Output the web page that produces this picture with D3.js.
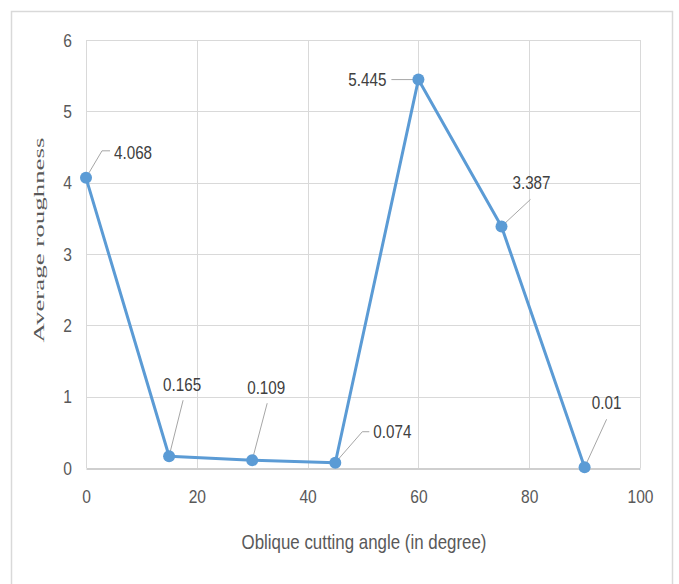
<!DOCTYPE html>
<html>
<head>
<meta charset="utf-8">
<script src="https://cdn.jsdelivr.net/npm/d3@7/dist/d3.min.js"></script>
<style>
  html, body { margin: 0; padding: 0; background: #fff; }
  svg { display: block; }
  .sans { font-family: "Liberation Sans", Arial, sans-serif; }
</style>
</head>
<body>
<svg id="chart" width="679" height="584"></svg>
<script>
// Oblique cutting angle (degrees) and the measured average roughness
const angles = [0, 15, 30, 45, 60, 75, 90];
const roughness = [4.068, 0.165, 0.109, 0.074, 5.445, 3.387, 0.01];
const xTicks = [0, 20, 40, 60, 80, 100];
const yTicks = [0, 1, 2, 3, 4, 5, 6];
const xTitle = "Oblique cutting angle (in degree)";
const yTitle = "Average roughness";

// Data label placement relative to each marker: text anchor + offset, leader line bend points
const labelLayout = [
  { anchor: "start",  dx: 28,  dy: -25, leader: [[16, -27], [24, -27]] },
  { anchor: "middle", dx: 13,  dy: -72, leader: [[14, -56]] },
  { anchor: "middle", dx: 14,  dy: -73, leader: [[15, -57]] },
  { anchor: "start",  dx: 38,  dy: -31, leader: [[27, -31], [34, -31]] },
  { anchor: "end",    dx: -32, dy: 0,   leader: [[-27, 0]] },
  { anchor: "middle", dx: 30,  dy: -44, leader: [[29, -27]] },
  { anchor: "middle", dx: 22,  dy: -65, leader: [[22, -48]] }
];

// Squeeze text horizontally so it reads like a condensed face
function condense(sel, factor) {
  sel.each(function () {
    const w = this.getComputedTextLength();
    d3.select(this).attr("textLength", w * factor).attr("lengthAdjust", "spacingAndGlyphs");
  });
}

const svg = d3.select("#chart");
const plot = { left: 86, right: 640, top: 40, bottom: 468 };

// Chart frame
svg.append("rect")
  .attr("x", 11.5).attr("y", 11.5)
  .attr("width", 661).attr("height", 590)
  .attr("fill", "#fff").attr("stroke", "#d9d9d9").attr("stroke-width", 1.5);

const x = d3.scaleLinear().domain([0, 100]).range([plot.left, plot.right]);
const y = d3.scaleLinear().domain([0, 6]).range([plot.bottom, plot.top]);

// Gridlines
const grid = svg.append("g");
grid.selectAll(".hg").data(yTicks.filter(d => d > 0)).join("line")
  .attr("x1", plot.left).attr("x2", plot.right)
  .attr("y1", d => Math.round(y(d)) + 0.5).attr("y2", d => Math.round(y(d)) + 0.5)
  .attr("stroke", "#d9d9d9").attr("stroke-width", 1);
grid.selectAll(".vg").data(xTicks).join("line")
  .attr("x1", d => Math.round(x(d)) + 0.5).attr("x2", d => Math.round(x(d)) + 0.5)
  .attr("y1", plot.top).attr("y2", plot.bottom)
  .attr("stroke", "#d9d9d9").attr("stroke-width", 1);

// Axes
const xAxis = svg.append("g")
  .attr("transform", `translate(0,${plot.bottom + 0.5})`)
  .call(d3.axisBottom(x).tickValues(xTicks).tickFormat(d3.format("d")).tickSize(0).tickPadding(21));
xAxis.select(".domain").attr("stroke", "#bfbfbf").attr("stroke-width", 1.5);
xAxis.selectAll("text").attr("class", "sans").attr("font-size", 19).attr("fill", "#595959")
  .call(condense, 0.82);

const yAxis = svg.append("g")
  .attr("transform", `translate(${plot.left},0)`)
  .call(d3.axisLeft(y).tickValues(yTicks).tickFormat(d3.format("d")).tickSize(0).tickPadding(14));
yAxis.select(".domain").remove();
yAxis.selectAll("text").attr("class", "sans").attr("font-size", 19).attr("fill", "#595959")
  .call(condense, 0.82);

// Axis titles
svg.append("text")
  .attr("class", "sans")
  .attr("x", 364).attr("y", 541)
  .attr("text-anchor", "middle").attr("dominant-baseline", "central")
  .attr("font-size", 21).attr("fill", "#595959")
  .attr("textLength", 245).attr("lengthAdjust", "spacingAndGlyphs")
  .text(xTitle);

svg.append("text")
  .attr("transform", "translate(43.5,240) rotate(-90)")
  .attr("text-anchor", "middle")
  .attr("font-family", "'Liberation Serif', 'DejaVu Serif', serif")
  .attr("font-size", 14).attr("fill", "#595959")
  .attr("textLength", 205).attr("lengthAdjust", "spacingAndGlyphs")
  .text(yTitle);

const pts = angles.map((a, i) => ({ a, v: roughness[i], px: x(a), py: y(roughness[i]), lay: labelLayout[i] }));

// Leader lines
svg.append("g").selectAll("polyline").data(pts).join("polyline")
  .attr("points", d => [[d.px, d.py], ...d.lay.leader.map(p => [d.px + p[0], d.py + p[1]])]
    .map(p => p.join(",")).join(" "))
  .attr("fill", "none").attr("stroke", "#a6a6a6").attr("stroke-width", 1);

// Series line
svg.append("path")
  .datum(pts)
  .attr("d", d3.line().x(d => d.px).y(d => d.py))
  .attr("fill", "none").attr("stroke", "#5b9bd5").attr("stroke-width", 3)
  .attr("stroke-linejoin", "round");

// Markers
svg.append("g").selectAll("circle").data(pts).join("circle")
  .attr("cx", d => d.px).attr("cy", d => d.py).attr("r", 6)
  .attr("fill", "#5b9bd5");

// Data labels
svg.append("g").selectAll("text").data(pts).join("text")
  .attr("class", "sans")
  .attr("x", d => d.px + d.lay.dx).attr("y", d => d.py + d.lay.dy)
  .attr("text-anchor", d => d.lay.anchor).attr("dominant-baseline", "central")
  .attr("font-size", 19).attr("fill", "#404040")
  .text(d => d.v)
  .call(condense, 0.8);
</script>
</body>
</html>
